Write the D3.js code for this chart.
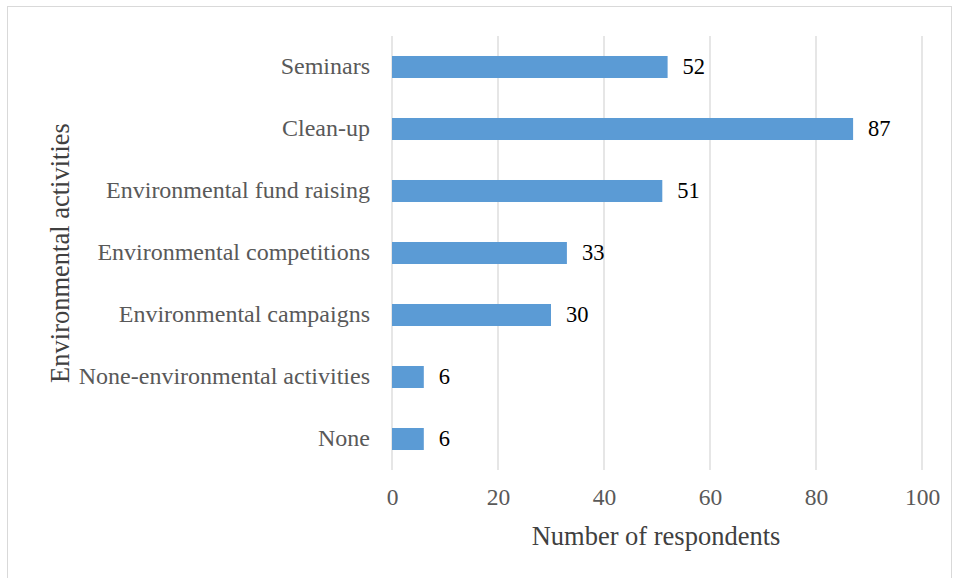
<!DOCTYPE html>
<html><head><meta charset="utf-8">
<script src="https://cdn.jsdelivr.net/npm/d3@7"></script>
<style>body{margin:0;background:#fff}svg{display:block}</style>
</head><body>
<svg id="c" width="960" height="578"></svg>
<script>
const categories = ["Seminars","Clean-up","Environmental fund raising","Environmental competitions","Environmental campaigns","None-environmental activities","None"];
const values = [52,87,51,33,30,6,6];
const xTicks = [0,20,40,60,80,100];

const svg = d3.select("#c");
const font = "'Liberation Serif','Times New Roman',serif";
svg.append("rect").attr("x",7.5).attr("y",6.5).attr("width",944).attr("height",580)
  .attr("fill","#fff").attr("stroke","#d9d9d9").attr("stroke-width",1);

const x = d3.scaleLinear().domain([0,100]).range([392,922]);
const y = d3.scaleBand().domain(categories).range([36,470]).paddingInner(0.645).paddingOuter(0.3225);

const g = svg.append("g");
g.selectAll(".grid").data(xTicks).join("line")
  .attr("x1",d=>x(d)).attr("x2",d=>x(d)).attr("y1",36).attr("y2",470)
  .attr("stroke","#d9d9d9").attr("stroke-width",1.3);

g.selectAll(".bar").data(values).join("rect")
  .attr("x",x(0)).attr("y",(d,i)=>y(categories[i]))
  .attr("width",d=>x(d)-x(0)).attr("height",y.bandwidth())
  .attr("fill","#5b9bd5");

g.selectAll(".val").data(values).join("text")
  .attr("x",d=>x(d)+15).attr("y",(d,i)=>y(categories[i])+y.bandwidth()/2)
  .attr("dy","0.33em").attr("font-family",font).attr("font-size",22.5).attr("fill","#000")
  .text(d=>d);

const yAxis = d3.axisLeft(y).tickSize(0).tickPadding(22);
const ya = svg.append("g").attr("transform",`translate(${x(0)},0)`).call(yAxis);
ya.select(".domain").remove();
ya.selectAll("text").attr("font-family",font).attr("font-size",24).attr("fill","#595959").attr("dy","0.3em");

const xAxis = d3.axisBottom(x).tickValues(xTicks).tickSize(0).tickPadding(18);
const xa = svg.append("g").attr("transform","translate(0,470)").call(xAxis);
xa.select(".domain").remove();
xa.selectAll("text").attr("font-family",font).attr("font-size",23.5).attr("fill","#595959");

svg.append("text").attr("x",656).attr("y",536).attr("dy","0.35em").attr("text-anchor","middle")
  .attr("font-family",font).attr("font-size",26.5).attr("fill","#404040").text("Number of respondents");
svg.append("text").attr("transform","translate(60,253) rotate(-90)").attr("dy","0.35em").attr("text-anchor","middle")
  .attr("font-family",font).attr("font-size",26.5).attr("fill","#404040").text("Environmental activities");
</script>
</body></html>
